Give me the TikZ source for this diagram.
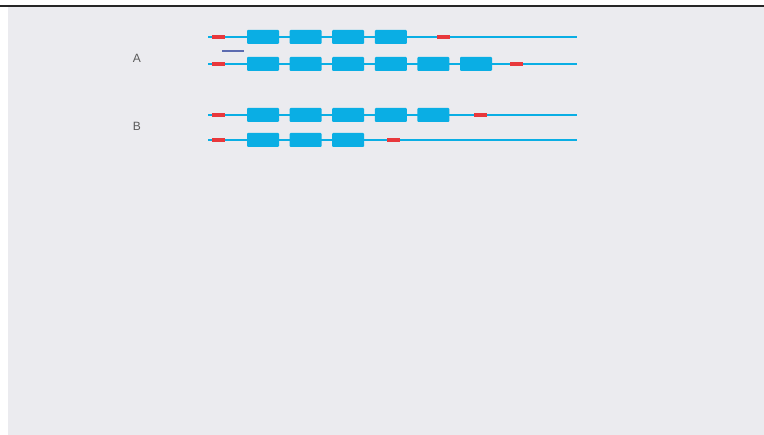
\documentclass[tikz,border=0pt]{standalone}
\usepackage{fontspec}
\setmainfont{Liberation Sans}
\usetikzlibrary{positioning}
\definecolor{exonblue}{HTML}{0AAEE4}
\definecolor{utrred}{HTML}{E8383C}
\definecolor{probeblue}{HTML}{5C6BB0}
\definecolor{slidegray}{HTML}{EBEBEF}
\definecolor{labelgray}{HTML}{5A5A5A}

\begin{document}
\begin{tikzpicture}[
  x=1pt,y=-1pt,
  exon/.style={fill=exonblue,rounded corners=1pt,minimum width=32pt,
               minimum height=14pt,inner sep=0pt},
  utr/.style={fill=utrred,minimum width=13pt,minimum height=3.4pt,inner sep=0pt},
  probe/.style={fill=probeblue,minimum width=22pt,minimum height=2pt,inner sep=0pt},
  strand/.style={exonblue,line width=2pt},
  lbl/.style={font=\fontsize{12}{14}\selectfont,text=labelgray}
]
  \useasboundingbox (0,0) rectangle (764,435);
  \fill[white] (0,0) rectangle (764,435);
  \fill[slidegray] (8,7) rectangle (764,435);
  \draw[black!85,line width=1.5pt] (0,6) -- (764,6);

  % transcripts: row / y / number of exons / position of the 3' red mark
  \foreach \row/\y/\n/\r in {a1/37/4/443,a2/64/6/516,b1/115/5/480,b2/140/3/393}{
    \coordinate (s\row) at (208,\y);
    \coordinate (e\row) at (577,\y);
    \draw[strand] (s\row) -- (e\row);
    \node[utr] (u\row) at (218,\y) {};
    \node[utr] (t\row) at (\r,\y) {};
    \foreach \i in {1,...,\n}
      \node[exon] (x\row\i) at ({263+42.6*(\i-1)},\y) {};
  }

  \node[probe] (probe) at (233,51) {};

  \node[lbl] (labA) at (137,58) {A};
  \node[lbl] (labB) at (137,126) {B};
\end{tikzpicture}
\end{document}
